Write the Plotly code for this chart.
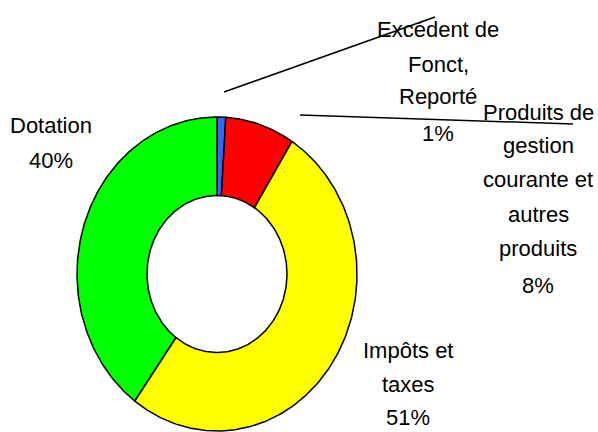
import numpy as np
import plotly.graph_objects as go

# data
labels = ["Excédent de Fonct, Reporté", "Produits de gestion courante et autres produits",
          "Impôts et taxes", "Dotation"]
values = [1, 8, 51, 40]
colors = ["#3366ff", "#ff0000", "#ffff00", "#00ff00"]
label_lines = [
    ["Excédent de", "Fonct,", "Reporté", "1%"],
    ["Produits de", "gestion", "courante et", "autres", "produits", "8%"],
    ["Impôts et", "taxes", "51%"],
    ["Dotation", "40%"],
]

W, H = 598, 432
hole = 0.5


def px(x):
    return x / W


def py(y):
    return 1 - y / H


fig = go.Figure()

# donut drawn as filled wedges (clockwise from 12 o'clock), slightly elliptical like the original
total = sum(values)
start = 0.0
for lab, v, c in zip(labels, values, colors):
    a0 = start / total * 2 * np.pi
    a1 = (start + v) / total * 2 * np.pi
    t = np.linspace(a0, a1, max(int(v * 4), 6))
    xs = np.concatenate([np.sin(t), hole * np.sin(t[::-1]), [np.sin(t[0])]])
    ys = np.concatenate([np.cos(t), hole * np.cos(t[::-1]), [np.cos(t[0])]])
    fig.add_trace(go.Scatter(
        x=xs, y=ys, fill="toself", fillcolor=c, mode="lines",
        line=dict(color="black", width=1.5), name=lab,
        hoverinfo="name", showlegend=False,
    ))
    start += v

# label positions: centre x and the y of each line (window pixels)
label_x = [438, 538, 408, 51]
label_y = [
    [29, 64, 97, 134],
    [112, 145, 179, 214, 249, 285],
    [350, 384, 417],
    [125, 160],
]
font = dict(family="Liberation Sans, Arial, sans-serif", size=22, color="black")
for lines, x, ys in zip(label_lines, label_x, label_y):
    for txt, y in zip(lines, ys):
        fig.add_annotation(x=px(x), y=py(y), xref="paper", yref="paper", text=txt,
                           showarrow=False, xanchor="center", yanchor="middle", font=font)

# leader lines
for (x0, y0, x1, y1) in [(224, 92, 435, 17), (300, 115, 573, 124)]:
    fig.add_shape(type="line", xref="paper", yref="paper",
                  x0=px(x0), y0=py(y0), x1=px(x1), y1=py(y1),
                  line=dict(color="black", width=1.5))

cx, cy, rx, ry = 217, 274, 140, 157
fig.update_layout(
    width=W, height=H,
    margin=dict(l=0, r=0, t=0, b=0),
    paper_bgcolor="white", plot_bgcolor="white",
    xaxis=dict(range=[-cx / rx, (W - cx) / rx], visible=False, fixedrange=True),
    yaxis=dict(range=[-(H - cy) / ry, cy / ry], visible=False, fixedrange=True),
)

# drop the default page margin so the figure fills the window exactly
fig.write_html("out.html", config={"displayModeBar": False},
               post_script="document.body.style.margin='0';document.body.style.overflow='hidden';")
